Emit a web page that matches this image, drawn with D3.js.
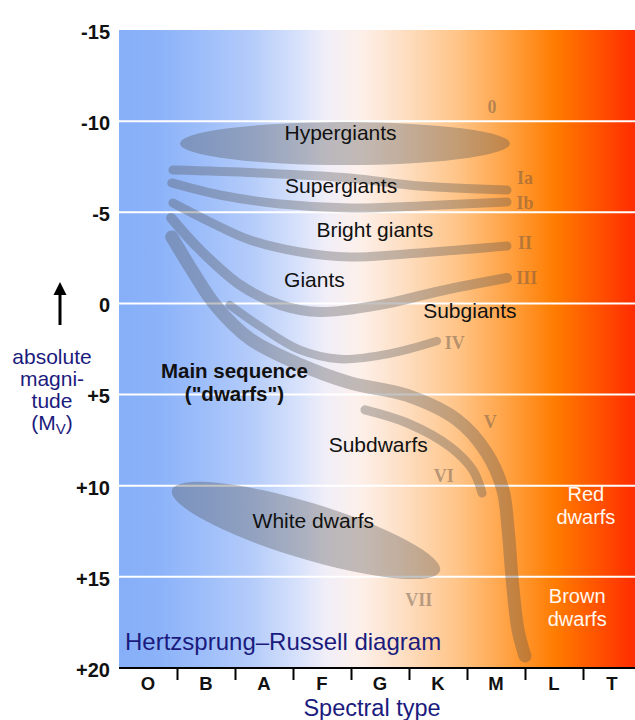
<!DOCTYPE html>
<html><head><meta charset="utf-8">
<script src="https://cdn.jsdelivr.net/npm/d3@7/dist/d3.min.js"></script>
<style>html,body{margin:0;padding:0;background:#fff;} svg{display:block;font-family:"Liberation Sans",Arial,sans-serif;}</style>
</head><body><svg id="c" width="635" height="720"></svg>
<script>
// ---------- data ----------
const spectralClasses = ["O","B","A","F","G","K","M","L","T"];
const magTicks = [-15,-10,-5,0,5,10,15,20];
const magTickLabels = ["-15","-10","-5","0","+5","+10","+15","+20"];
const gridMags = [-10,-5,0,5,10,15];

// branches: [spectral position (class units, O starts at 0), absolute magnitude]
const branchIa  = [[0.93,-7.32],[2.43,-7.16],[3.98,-6.88],[5.19,-6.44],[6.69,-6.22]];
const branchIb  = [[0.91,-6.61],[1.74,-5.95],[2.78,-5.46],[3.98,-5.24],[5.19,-5.35],[6.69,-5.57]];
const branchII  = [[0.93,-5.51],[1.57,-4.47],[2.26,-3.48],[3.12,-2.82],[3.98,-2.55],[5.19,-2.77],[6.69,-3.15]];
const branchIII = [[0.90,-4.69],[1.40,-2.93],[2.09,-1.01],[2.78,0.08],[3.47,0.47],[4.50,0.08],[5.53,-0.68],[6.69,-1.40]];
const branchIV  = [[1.91,0.09],[2.43,1.25],[3.12,2.55],[3.81,3.05],[4.67,2.75],[5.48,2.06]];
const branchV   = [[0.91,-3.65],[1.31,-1.56],[1.66,0.09],[2.26,1.95],[3.12,3.35],[3.98,4.35],[4.97,5.05],[5.83,6.39],[6.34,8.2],[6.62,10.23],[6.71,12.43],[6.78,15.17],[6.88,17.91],[7.0,19.34]];
const branchVI  = [[4.24,5.84],[4.97,6.56],[5.71,7.87],[6.10,9.14],[6.26,10.40]];

// ellipses: major-axis endpoints + half thickness (mag)
const hypergiantEnds = [[1.05,-8.77],[6.74,-8.77]];
const hypergiantHalf = 1.18;
const whiteDwarfEnds = [[0.914,10.23],[5.534,14.68]];
const whiteDwarfHalf = 1.54;

const regionNames = ["Hypergiants","Supergiants","Bright giants","Giants","Subgiants","Subdwarfs","White dwarfs"];
const regionPos   = [[3.82,-8.97],[3.83,-6.06],[4.41,-3.64],[3.37,-0.90],[6.05,0.80],[4.47,8.15],[3.35,12.32]];
const mainSeqLines = ["Main sequence","(\"dwarfs\")"];
const mainSeqPos   = [[1.99,4.09],[1.99,5.35]];
const dwarfLines = ["Red","dwarfs","Brown","dwarfs"];
const dwarfPos   = [[8.05,10.84],[8.05,12.10],[7.90,16.43],[7.90,17.69]];
const lumClasses = ["0","Ia","Ib","II","III","IV","V","VI","VII"];
const lumPos     = [[6.43,-10.45],[7.0,-6.55],[7.0,-5.18],[7.0,-2.99],[7.03,-1.07],[5.79,2.5],[6.40,6.83],[5.60,9.79],[5.17,16.6]];

// ---------- chart ----------
const svg = d3.select("#c");
const L = 119, R = 635, T = 30, B = 668;
const x = d3.scaleLinear().domain([0, 9]).range([L, 641]);
const y = d3.scaleLinear().domain([-15, 20]).range([T, B]);

const defs = svg.append("defs");
const grad = defs.append("linearGradient").attr("id","bg")
  .attr("gradientUnits","userSpaceOnUse").attr("x1",L).attr("x2",R).attr("y1",0).attr("y2",0);
[[0,"#86aff8"],[0.08,"#8cb3f9"],[0.157,"#9cbdfa"],[0.254,"#b3cbfa"],[0.35,"#d8e2fb"],[0.40,"#f0eef8"],
 [0.467,"#fdf0ea"],[0.545,"#fde0c6"],[0.657,"#ffc487"],[0.758,"#ffa040"],[0.845,"#ff7c00"],[0.932,"#ff5000"],[1,"#ff2c00"]]
 .forEach(([o,c]) => grad.append("stop").attr("offset",o).attr("stop-color",c));
defs.append("clipPath").attr("id","clip").append("rect").attr("x",L).attr("y",T).attr("width",R-L).attr("height",B-T);

svg.append("rect").attr("x",L).attr("y",T).attr("width",R-L).attr("height",B-T).attr("fill","url(#bg)");

const plot = svg.append("g").attr("clip-path","url(#clip)");
plot.selectAll("line.grid").data(gridMags).join("line").attr("class","grid")
  .attr("x1",L).attr("x2",R).attr("y1",d=>y(d)).attr("y2",d=>y(d))
  .attr("stroke","#fff").attr("stroke-width",2);

const bandColor = "rgba(80,80,80,0.34)";
function ellipse(ends, half){
  const [a,b] = ends.map(([s,m]) => [x(s), y(m)]);
  const cx = (a[0]+b[0])/2, cy = (a[1]+b[1])/2;
  const rx = Math.hypot(b[0]-a[0], b[1]-a[1])/2;
  const ang = Math.atan2(b[1]-a[1], b[0]-a[0])*180/Math.PI;
  const ry = half*(y(1)-y(0));
  plot.append("ellipse").attr("cx",0).attr("cy",0).attr("rx",rx).attr("ry",ry)
    .attr("transform",`translate(${cx},${cy}) rotate(${ang})`).attr("fill",bandColor);
}
ellipse(hypergiantEnds, hypergiantHalf);
ellipse(whiteDwarfEnds, whiteDwarfHalf);

const line = d3.line().x(d=>x(d[0])).y(d=>y(d[1])).curve(d3.curveCatmullRom.alpha(0.5));
[[branchIa,9],[branchIb,9],[branchII,9],[branchIII,10],[branchIV,8.5],[branchV,13],[branchVI,9]]
 .forEach(([pts,w]) => plot.append("path").attr("d",line(pts)).attr("fill","none")
   .attr("stroke",bandColor).attr("stroke-width",w).attr("stroke-linecap","round"));

// luminosity class labels
plot.selectAll("text.lum").data(lumClasses).join("text").attr("class","lum")
  .attr("x",(d,i)=>x(lumPos[i][0])).attr("y",(d,i)=>y(lumPos[i][1]))
  .attr("text-anchor","middle").attr("font-family","'Liberation Serif','Times New Roman',serif")
  .attr("font-weight","bold").attr("font-size",18).attr("fill","rgba(90,80,70,0.45)").text(d=>d);

// region labels
plot.selectAll("text.reg").data(regionNames).join("text").attr("class","reg")
  .attr("x",(d,i)=>x(regionPos[i][0])).attr("y",(d,i)=>y(regionPos[i][1]))
  .attr("text-anchor","middle").attr("font-size",21).attr("fill","#111").text(d=>d);
plot.selectAll("text.ms").data(mainSeqLines).join("text").attr("class","ms")
  .attr("x",(d,i)=>x(mainSeqPos[i][0])).attr("y",(d,i)=>y(mainSeqPos[i][1]))
  .attr("text-anchor","middle").attr("font-size",20.5).attr("font-weight","bold").attr("fill","#111").text(d=>d);
plot.selectAll("text.dw").data(dwarfLines).join("text").attr("class","dw")
  .attr("x",(d,i)=>x(dwarfPos[i][0])).attr("y",(d,i)=>y(dwarfPos[i][1]))
  .attr("text-anchor","middle").attr("font-size",20).attr("fill","#fff8f0").text(d=>d);

svg.append("text").attr("x",125).attr("y",650).attr("font-size",24).attr("fill","#1b1b7e")
  .text("Hertzsprung–Russell diagram");

// bottom axis
const xAxis = svg.append("g").attr("transform",`translate(0,${B})`)
  .call(d3.axisBottom(x).tickValues(d3.range(1,9)).tickSize(12).tickFormat(""));
xAxis.select(".domain").attr("d",`M${L},0H${R}`).attr("stroke","#000").attr("stroke-width",2);
xAxis.selectAll(".tick line").attr("stroke","#000").attr("stroke-width",2);
svg.selectAll("text.cls").data(spectralClasses).join("text").attr("class","cls")
  .attr("x",(d,i)=>x(i+0.5)).attr("y",690).attr("text-anchor","middle")
  .attr("font-size",18.5).attr("font-weight","bold").attr("fill","#111").text(d=>d);
svg.append("text").attr("x",372).attr("y",716).attr("text-anchor","middle")
  .attr("font-size",23.5).attr("fill","#1b1b7e").text("Spectral type");

// left axis
const yAxis = svg.append("g").attr("transform",`translate(${L},0)`)
  .call(d3.axisLeft(y).tickValues(magTicks).tickSize(0).tickPadding(9).tickFormat((d,i)=>magTickLabels[i]));
yAxis.select(".domain").remove();
yAxis.selectAll("text").attr("font-size",20).attr("font-weight","bold").attr("fill","#111")
  .attr("font-family","'Liberation Sans',Arial,sans-serif").attr("dy","0.42em");

// arrow + axis title
svg.append("line").attr("x1",60).attr("x2",60).attr("y1",325).attr("y2",292).attr("stroke","#000").attr("stroke-width",3);
svg.append("path").attr("d","M53.5,295L60,282L66.5,295Z").attr("fill","#000");
const yt = svg.append("g").attr("fill","#1b1b7e").attr("font-size",21).attr("text-anchor","middle");
yt.append("text").attr("x",52).attr("y",364).text("absolute");
yt.append("text").attr("x",52).attr("y",386).text("magni-");
yt.append("text").attr("x",52).attr("y",408).text("tude");
const mv = yt.append("text").attr("x",52).attr("y",430);
mv.append("tspan").text("(M");
mv.append("tspan").attr("font-size",15).attr("dy",4).text("V");
mv.append("tspan").attr("dy",-4).text(")");
</script></body></html>
